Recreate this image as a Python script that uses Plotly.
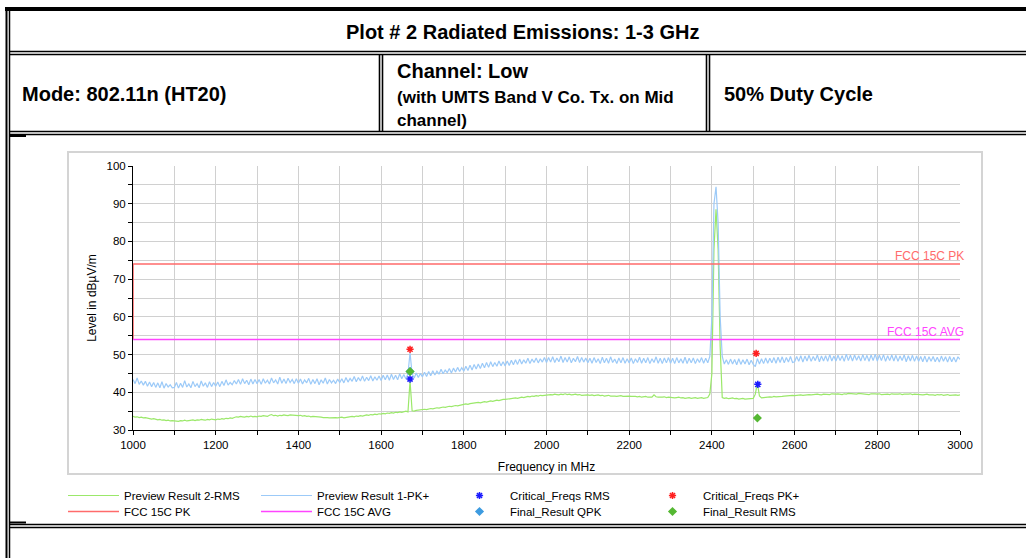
import plotly.graph_objects as go

# ---------------- data ----------------
FREQ_START_MHZ = 1000
FREQ_STEP_MHZ = 5

preview_pk = [
    43.4, 42.3, 43.8, 42.1, 43.0, 41.9, 42.9, 41.6, 42.7, 41.5, 42.6, 41.3, 42.5, 41.2, 42.8, 41.1, 42.3, 41.4, 42.0, 41.2,
    41.3, 42.6, 41.1, 42.4, 41.3, 43.1, 41.4, 42.2, 41.2, 42.9, 41.5, 42.3, 41.2, 43.0, 41.6, 42.5, 41.3, 42.8, 41.5, 42.6,
    41.6, 42.7, 41.5, 42.9, 41.8, 43.3, 41.9, 42.6, 42.0, 43.1, 42.2, 43.4, 42.1, 43.6, 42.3, 43.2, 42.0, 43.5, 42.2, 43.4,
    42.3, 43.4, 42.1, 43.6, 42.4, 43.2, 42.2, 43.8, 42.5, 43.3, 42.2, 44.0, 42.4, 43.5, 42.3, 43.7, 42.6, 43.4, 42.3, 43.6,
    42.4, 43.5, 42.2, 43.3, 42.5, 43.7, 42.1, 43.4, 42.3, 43.6, 42.0, 43.3, 42.4, 43.8, 42.2, 43.4, 42.5, 43.2, 42.3, 43.5,
    42.6, 43.6, 42.5, 43.9, 42.7, 43.7, 42.9, 44.2, 42.8, 43.9, 43.0, 44.3, 42.9, 44.0, 43.1, 44.4, 43.0, 44.1, 43.2, 44.3,
    43.1, 44.5, 43.3, 44.6, 43.2, 44.8, 43.4, 44.5, 43.3, 44.9, 43.6, 44.7, 43.5, 45.0, 50.5, 44.9, 43.8, 45.1, 43.9, 45.0,
    44.1, 45.3, 44.2, 45.5, 44.4, 45.7, 44.6, 45.6, 44.8, 46.1, 44.9, 45.9, 45.2, 46.3, 45.1, 46.4, 45.4, 46.6, 45.5, 46.5,
    45.6, 46.9, 45.8, 47.2, 45.9, 47.4, 46.2, 47.5, 46.3, 47.7, 46.5, 47.9, 46.6, 48.1, 46.8, 47.9, 46.9, 48.3, 47.0, 48.1,
    47.0, 48.3, 47.1, 48.5, 47.3, 48.6, 47.4, 48.8, 47.5, 48.6, 47.7, 49.0, 47.6, 48.8, 47.9, 49.1, 47.8, 48.9, 48.0, 49.2,
    47.9, 49.2, 48.0, 49.4, 47.9, 49.1, 48.1, 49.6, 47.9, 49.2, 48.0, 49.4, 47.8, 49.0, 48.1, 49.5, 47.9, 49.2, 48.0, 49.1,
    47.8, 49.0, 47.7, 49.2, 47.9, 48.9, 47.6, 49.3, 47.8, 49.0, 47.7, 49.4, 47.9, 48.8, 47.6, 49.1, 47.8, 49.2, 47.7, 48.9,
    47.8, 49.1, 47.6, 48.9, 47.9, 49.3, 47.7, 49.0, 47.8, 49.2, 47.6, 48.9, 47.9, 49.4, 47.7, 49.0, 47.6, 49.1, 47.8, 49.2,
    47.7, 49.0, 47.6, 49.2, 47.8, 48.9, 47.7, 49.3, 47.6, 49.0, 47.8, 49.1, 47.6, 48.9, 47.9, 49.2, 47.7, 49.0, 47.8, 49.5,
    60.0, 90.0, 94.5, 85.0, 60.0, 49.5, 47.5, 48.6, 47.4, 48.8, 47.5, 48.7, 47.3, 48.9, 47.4, 48.6, 47.5, 48.8, 47.3, 48.5,
    47.4, 46.8, 48.9, 47.5, 48.9, 47.6, 49.1, 47.7, 49.0, 47.8, 49.2, 47.7, 49.3, 47.9, 49.4, 47.8, 49.2, 48.0, 49.5, 47.9,
    48.1, 49.5, 48.2, 49.7, 48.0, 49.6, 48.3, 49.8, 48.2, 49.5, 48.4, 49.9, 48.1, 49.6, 48.3, 49.7, 48.2, 50.0, 48.3, 49.6,
    48.3, 49.8, 48.4, 49.7, 48.2, 50.1, 48.4, 49.8, 48.3, 49.9, 48.5, 49.7, 48.3, 50.0, 48.4, 49.8, 48.2, 49.9, 48.4, 50.1,
    48.3, 49.8, 48.4, 50.0, 48.2, 49.7, 48.4, 49.9, 48.3, 49.8, 48.2, 49.6, 48.4, 49.9, 48.1, 49.7, 48.3, 49.8, 48.2, 49.6,
    48.2, 49.5, 48.1, 49.6, 48.0, 49.4, 48.2, 49.5, 48.1, 49.3, 48.0, 49.6, 48.2, 49.4, 48.0, 49.5, 48.1, 49.3, 48.0, 49.4,
    48.7,
]

preview_rms = [
    33.6, 33.4, 33.5, 33.3, 33.4, 33.2, 33.3, 33.1, 33.0, 32.9, 33.0, 32.8, 32.7, 32.8, 32.6, 32.7, 32.5, 32.6, 32.4, 32.5,
    32.4, 32.5, 32.3, 32.5, 32.4, 32.6, 32.4, 32.5, 32.6, 32.7, 32.5, 32.7, 32.6, 32.8, 32.7, 32.6, 32.8, 32.7, 32.9, 32.8,
    32.7, 32.9, 32.8, 33.0, 32.9, 33.1, 33.0, 33.2, 33.1, 33.3, 33.5, 33.4, 33.6, 33.5, 33.4, 33.6, 33.5, 33.7, 33.5, 33.6,
    33.5, 33.7, 33.6, 33.8, 33.7, 33.6, 33.9, 34.1, 33.8, 33.9, 33.7, 33.9, 33.8, 34.0, 33.9, 33.8, 34.0, 33.9, 33.8, 33.9,
    33.8, 33.9, 33.7, 33.8, 33.6, 33.7, 33.5, 33.6, 33.5, 33.4, 33.5, 33.4, 33.3, 33.4, 33.3, 33.2, 33.3, 33.4, 33.3, 33.2,
    33.3, 33.4, 33.2, 33.3, 33.5, 33.4, 33.6, 33.5, 33.7, 33.6, 33.8, 33.7, 33.9, 34.0, 33.9, 34.1, 34.0, 34.2, 34.1, 34.3,
    34.2, 34.4, 34.3, 34.5, 34.4, 34.6, 34.5, 34.7, 34.6, 34.8, 34.7, 34.9, 35.0, 34.8, 43.0, 35.1, 35.0, 35.2, 35.3, 35.2,
    35.4, 35.5, 35.4, 35.6, 35.7, 35.6, 35.8, 35.9, 35.8, 36.0, 36.1, 36.0, 36.2, 36.3, 36.2, 36.4, 36.5, 36.4, 36.6, 36.7,
    36.8, 36.9, 36.8, 37.0, 37.1, 37.0, 37.2, 37.3, 37.2, 37.4, 37.5, 37.4, 37.6, 37.7, 37.6, 37.8, 37.9, 37.8, 38.0, 38.1,
    38.1, 38.2, 38.3, 38.2, 38.4, 38.5, 38.4, 38.6, 38.7, 38.6, 38.8, 38.9, 38.8, 39.0, 38.9, 39.1, 39.0, 39.2, 39.1, 39.2,
    39.3, 39.2, 39.4, 39.3, 39.5, 39.4, 39.3, 39.5, 39.4, 39.6, 39.4, 39.5, 39.3, 39.4, 39.5, 39.3, 39.4, 39.2, 39.3, 39.4,
    39.3, 39.2, 39.3, 39.1, 39.2, 39.3, 39.1, 39.2, 39.0, 39.1, 39.2, 39.0, 39.1, 39.0, 38.9, 39.0, 39.1, 38.9, 39.0, 38.9,
    39.0, 38.9, 38.8, 38.9, 38.8, 38.9, 38.7, 38.8, 38.9, 38.7, 38.8, 38.7, 39.3, 38.8, 38.7, 38.6, 38.7, 38.8, 38.6, 38.7,
    38.6, 38.7, 38.5, 38.6, 38.7, 38.5, 38.6, 38.4, 38.5, 38.6, 38.4, 38.5, 38.6, 38.4, 38.5, 38.6, 38.4, 38.5, 38.6, 39.5,
    45.0, 78.0, 88.5, 78.0, 52.0, 38.6, 38.4, 38.5, 38.3, 38.4, 38.5, 38.3, 38.4, 38.2, 38.3, 38.4, 38.2, 38.3, 38.4, 38.3,
    38.4, 39.5, 42.5, 39.0, 38.5, 38.6, 38.7, 38.6, 38.8, 38.7, 38.9, 38.8, 38.9, 39.0, 38.9, 39.0, 39.1, 39.0, 39.1, 39.2,
    39.1, 39.2, 39.1, 39.3, 39.2, 39.3, 39.2, 39.4, 39.3, 39.4, 39.3, 39.5, 39.4, 39.3, 39.5, 39.4, 39.5, 39.4, 39.6, 39.5,
    39.5, 39.6, 39.5, 39.4, 39.6, 39.5, 39.7, 39.6, 39.5, 39.6, 39.5, 39.7, 39.6, 39.5, 39.6, 39.5, 39.4, 39.6, 39.5, 39.6,
    39.5, 39.6, 39.4, 39.5, 39.6, 39.5, 39.4, 39.6, 39.5, 39.4, 39.5, 39.6, 39.4, 39.5, 39.4, 39.5, 39.6, 39.4, 39.5, 39.4,
    39.5, 39.4, 39.3, 39.4, 39.5, 39.3, 39.4, 39.3, 39.2, 39.4, 39.3, 39.4, 39.2, 39.3, 39.4, 39.2, 39.3, 39.4, 39.3, 39.2,
    39.3,
]

freq_pk = [FREQ_START_MHZ + FREQ_STEP_MHZ * i for i in range(len(preview_pk))]
freq_rms = [FREQ_START_MHZ + FREQ_STEP_MHZ * i for i in range(len(preview_rms))]

limit_pk_freq = [1000, 1000, 3000]
limit_pk_level = [54, 74, 74]
limit_avg_freq = [1000, 3000]
limit_avg_level = [54, 54]

crit_pk_freq = [1670, 2507]
crit_pk_level = [51.4, 50.3]
crit_rms_freq = [1670, 2511]
crit_rms_level = [43.5, 42.1]
final_qpk_freq = [1670]
final_qpk_level = [45.5]
final_rms_freq = [1670, 2510]
final_rms_level = [45.5, 33.2]

x_ticks = [1000, 1200, 1400, 1600, 1800, 2000, 2200, 2400, 2600, 2800, 3000]
y_ticks = [30, 40, 50, 60, 70, 80, 90, 100]

# ---------------- layout helpers ----------------
W, H = 1026, 558
def px(x):
    return x / W
def py(y):
    return 1 - y / H

FONT = "Liberation Sans, Arial, sans-serif"

fig = go.Figure()

fig.add_trace(go.Scatter(x=freq_rms, y=preview_rms, mode="lines", name="Preview Result 2-RMS",
                         line=dict(color="#9be86a", width=1.2), legend="legend"))
fig.add_trace(go.Scatter(x=freq_pk, y=preview_pk, mode="lines", name="Preview Result 1-PK+",
                         line=dict(color="#9ccaf8", width=1.2), legend="legend"))
fig.add_trace(go.Scatter(x=limit_pk_freq, y=limit_pk_level, mode="lines", name="FCC 15C PK",
                         line=dict(color="#ff6b6b", width=1.6), legend="legend2"))
fig.add_trace(go.Scatter(x=limit_avg_freq, y=limit_avg_level, mode="lines", name="FCC 15C AVG",
                         line=dict(color="#ff44ff", width=1.6), legend="legend2"))
fig.add_trace(go.Scatter(x=crit_rms_freq, y=crit_rms_level, mode="markers", name="Critical_Freqs RMS",
                         marker=dict(symbol="asterisk-open", size=6, color="#1a1aff", line=dict(color="#1a1aff", width=1.5)),
                         legend="legend"))
fig.add_trace(go.Scatter(x=crit_pk_freq, y=crit_pk_level, mode="markers", name="Critical_Freqs PK+",
                         marker=dict(symbol="asterisk-open", size=6, color="#ff2020", line=dict(color="#ff2020", width=1.5)),
                         legend="legend"))
fig.add_trace(go.Scatter(x=final_qpk_freq, y=final_qpk_level, mode="markers", name="Final_Result QPK",
                         marker=dict(symbol="diamond", size=7, color="#3d9be0"), legend="legend2"))
fig.add_trace(go.Scatter(x=final_rms_freq, y=final_rms_level, mode="markers", name="Final_Result RMS",
                         marker=dict(symbol="diamond", size=7, color="#55b833"), legend="legend2"))

# ---------------- table frame ----------------
shapes = []
def hline(y, x0, x1, w=1.5):
    shapes.append(dict(type="line", xref="paper", yref="paper", x0=px(x0), x1=px(x1), y0=py(y), y1=py(y),
                       line=dict(color="black", width=w)))
def vline(x, y0, y1, w=1.5):
    shapes.append(dict(type="line", xref="paper", yref="paper", x0=px(x), x1=px(x), y0=py(y0), y1=py(y1),
                       line=dict(color="black", width=w)))

hline(9, 5, W, 4)
vline(6.5, 7, H, 2)
vline(9.5, 11, H, 1.5)
for y in (51.5, 54.5, 131.5, 134.5, 524.5, 527.5):
    hline(y, 9, W, 1.6)
for x in (379.5, 382.5, 706.5, 709.5):
    vline(x, 54.5, 131.5, 1.6)
hline(136, 9, 26, 2)
hline(522.5, 9, 26, 2)
# chart box
shapes.append(dict(type="rect", xref="paper", yref="paper", x0=px(68), x1=px(982), y0=py(474), y1=py(152),
                    line=dict(color="#d4d4d4", width=2), fillcolor="rgba(0,0,0,0)", layer="below"))

annotations = [
    dict(text="<b>Plot # 2 Radiated Emissions: 1-3 GHz</b>", x=px(522), y=py(32), xanchor="center", yanchor="middle",
         font=dict(size=20, family=FONT, color="black")),
    dict(text="<b>Mode: 802.11n (HT20)</b>", x=px(20), y=py(94), xanchor="left", yanchor="middle",
         font=dict(size=20, family=FONT, color="black")),
    dict(text="<b>Channel: Low</b>", x=px(395), y=py(71), xanchor="left", yanchor="middle",
         font=dict(size=20, family=FONT, color="black")),
    dict(text="<b>(with UMTS Band V Co. Tx. on Mid</b>", x=px(395), y=py(97), xanchor="left", yanchor="middle",
         font=dict(size=17, family=FONT, color="black")),
    dict(text="<b>channel)</b>", x=px(395), y=py(120), xanchor="left", yanchor="middle",
         font=dict(size=17, family=FONT, color="black")),
    dict(text="<b>50% Duty Cycle</b>", x=px(722), y=py(94), xanchor="left", yanchor="middle",
         font=dict(size=20, family=FONT, color="black")),
    dict(text="FCC 15C PK", x=px(966), y=py(256), xanchor="right", yanchor="middle",
         font=dict(size=12, family=FONT, color="#ff6b6b")),
    dict(text="FCC 15C AVG", x=px(966), y=py(332), xanchor="right", yanchor="middle",
         font=dict(size=12, family=FONT, color="#ff44ff")),
]
for a in annotations:
    a.update(xref="paper", yref="paper", showarrow=False)

grid = "#d0d0d0"
legend_common = dict(orientation="h", x=px(63), xanchor="left", yanchor="top",
                     entrywidth=127, entrywidthmode="pixels", itemwidth=51,
                     font=dict(size=11.5, family=FONT), bgcolor="rgba(0,0,0,0)", borderwidth=0,
                     traceorder="normal", tracegroupgap=0)
fig.update_layout(
    width=W, height=H, autosize=False,
    margin=dict(l=0, r=0, t=0, b=0, pad=0, autoexpand=False),
    paper_bgcolor="white", plot_bgcolor="white",
    font=dict(family=FONT, size=12, color="black"),
    shapes=shapes, annotations=annotations,
    xaxis=dict(domain=[px(133), px(960)], range=[1000, 3000], tickvals=x_ticks,
               showgrid=True, gridcolor=grid, gridwidth=1.2, layer="below traces",
               showline=True, linecolor="black", linewidth=1, ticks="outside", ticklen=4, tickcolor="black",
               minor=dict(dtick=100, tick0=1000, showgrid=True, gridcolor=grid, gridwidth=1.2,
                          ticks="outside", ticklen=4, tickcolor="black"),
               tickfont=dict(size=11.5, family=FONT, color="black"), zeroline=False,
               title=dict(text="Frequency in MHz", font=dict(size=12, family=FONT), standoff=12)),
    yaxis=dict(domain=[py(430), py(166)], range=[30, 100], tickvals=y_ticks,
               showgrid=True, gridcolor=grid, gridwidth=1.2, layer="below traces",
               showline=True, linecolor="black", linewidth=1, ticks="outside", ticklen=4, tickcolor="black",
               minor=dict(dtick=5, tick0=30, showgrid=True, gridcolor=grid, gridwidth=1.2,
                          ticks="outside", ticklen=4, tickcolor="black"),
               tickfont=dict(size=11.5, family=FONT, color="black"), zeroline=False,
               title=dict(text="Level in dBµV/m", font=dict(size=12, family=FONT), standoff=7)),
    legend=dict(y=py(481), **legend_common),
    legend2=dict(y=py(497), **legend_common),
    showlegend=True,
)

fig.write_html("out.html", config={"displayModeBar": False},
               post_script="document.body.style.margin='0';document.body.style.overflow='hidden';")
